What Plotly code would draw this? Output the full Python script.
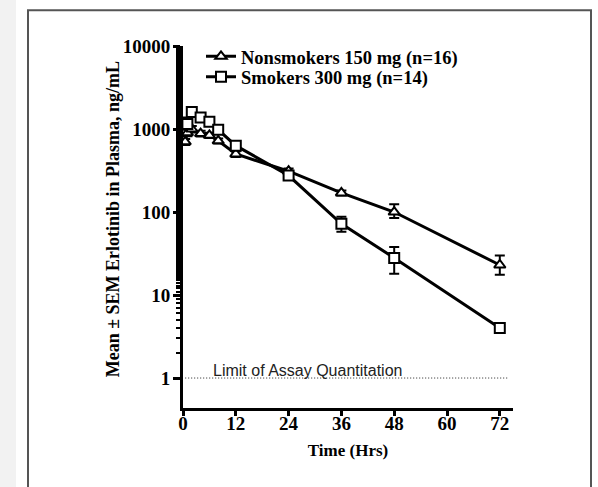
import plotly.graph_objects as go

# ---- data ----
time_ns = [0.5, 1, 2, 4, 6, 8, 12, 24, 36, 48, 72]
nonsmokers = [700, 900, 1000, 880, 840, 720, 500, 310, 170, 100, 23]
ns_err_up = [60, 80, 90, 70, 60, 50, 40, 25, 12, 24, 7]
ns_err_dn = [60, 80, 90, 70, 60, 50, 40, 25, 12, 15, 5.5]

time_s = [0.5, 1, 2, 4, 6, 8, 12, 24, 36, 48, 72]
smokers = [1200, 1150, 1600, 1380, 1220, 980, 630, 275, 72, 28, 4]
s_err_up = [90, 90, 120, 100, 90, 70, 40, 20, 16, 10, 0.3]
s_err_dn = [90, 90, 120, 100, 90, 70, 40, 20, 14, 10, 0.3]

loq_x = [0.5, 74]
loq_y = [1, 1]

x_ticks = [0, 12, 24, 36, 48, 60, 72]
y_ticks = [1, 10, 100, 1000, 10000]

# ---- layout helpers (pixel -> paper) ----
L, R, T, B = 183, 513, 45.7, 407.7
W, H = 598, 487
def px(x):
    return (x - L) / (R - L)
def py(y):
    return 1 - (y - T) / (B - T)

fig = go.Figure()

fig.add_trace(go.Scatter(
    x=loq_x, y=loq_y, mode="lines",
    line=dict(color="#222", width=1, dash="1px,2px"),
    showlegend=False, hoverinfo="skip"))

fig.add_trace(go.Scatter(
    x=time_ns, y=nonsmokers, mode="lines+markers",
    name="<b>Nonsmokers 150 mg (n=16)</b>", legend="legend",
    line=dict(color="black", width=3),
    marker=dict(symbol="triangle-up", size=10, color="white",
                line=dict(color="black", width=2)),
    error_y=dict(type="data", array=ns_err_up, arrayminus=ns_err_dn,
                 color="black", thickness=2, width=5)))

fig.add_trace(go.Scatter(
    x=time_s, y=smokers, mode="lines+markers",
    name="<b>Smokers 300 mg (n=14)</b>", legend="legend2",
    line=dict(color="black", width=3),
    marker=dict(symbol="square", size=10, color="white",
                line=dict(color="black", width=2)),
    error_y=dict(type="data", array=s_err_up, arrayminus=s_err_dn,
                 color="black", thickness=2, width=5)))

lfont = dict(family="Liberation Serif", size=18.5, color="black")

fig.update_layout(
    width=W, height=H,
    margin=dict(l=L, r=W - R, t=T, b=H - B),
    paper_bgcolor="white", plot_bgcolor="white",
    showlegend=True,
    legend=dict(x=px(201), y=py(56.5), xanchor="left", yanchor="middle",
                font=lfont, bgcolor="rgba(0,0,0,0)", itemwidth=30),
    legend2=dict(x=px(201), y=py(77), xanchor="left", yanchor="middle",
                 font=lfont, bgcolor="rgba(0,0,0,0)", itemwidth=30),
    xaxis=dict(range=[0, 75], tickvals=x_ticks,
               ticktext=["<b>%d</b>" % v for v in x_ticks],
               showgrid=False, zeroline=False, showline=True, linecolor="black",
               linewidth=3, ticks="outside", ticklen=5, tickwidth=2.5,
               tickcolor="black", ticklabelstandoff=-9,
               tickfont=dict(family="Liberation Serif", size=19, color="black"),
               title=dict(text="<b>Time (Hrs)</b>",
                          font=dict(family="Liberation Serif", size=17, color="black"),
                          standoff=12)),
    yaxis=dict(type="log", range=[-0.361, 4.0], tickvals=y_ticks,
               ticktext=["<b>%d</b>" % v for v in y_ticks],
               showgrid=False, zeroline=False, showline=True, linecolor="black",
               linewidth=3, ticks="outside", ticklen=7, tickwidth=2.5,
               tickcolor="black", ticklabelstandoff=-1,
               minor=dict(ticks="outside", ticklen=4, tickwidth=1.5, tickcolor="black",
                          showgrid=False),
               tickfont=dict(family="Liberation Serif", size=19, color="black")),
    shapes=[
        dict(type="rect", xref="paper", yref="paper",
             x0=px(0), x1=px(16), y0=py(-10), y1=py(500),
             fillcolor="#f2f2f2", line=dict(width=0), layer="below"),
        dict(type="rect", xref="paper", yref="paper",
             x0=px(28), x1=px(591), y0=py(10), y1=py(520),
             fillcolor="rgba(0,0,0,0)", line=dict(color="#555", width=2)),
    ],
    annotations=[
        dict(x=6.3, y=0, xref="x", yref="y", xanchor="left", yanchor="bottom",
             text="Limit of Assay Quantitation", showarrow=False,
             font=dict(family="Liberation Sans", size=16, color="#222"), yshift=-3),
        dict(x=px(113), y=py(219), xref="paper", yref="paper",
             xanchor="center", yanchor="middle", textangle=-90,
             text="<b>Mean \u00b1 SEM Erlotinib in Plasma, ng/mL</b>", showarrow=False,
             font=dict(family="Liberation Serif", size=18, color="black")),
    ],
)

fig.write_html("out.html")
